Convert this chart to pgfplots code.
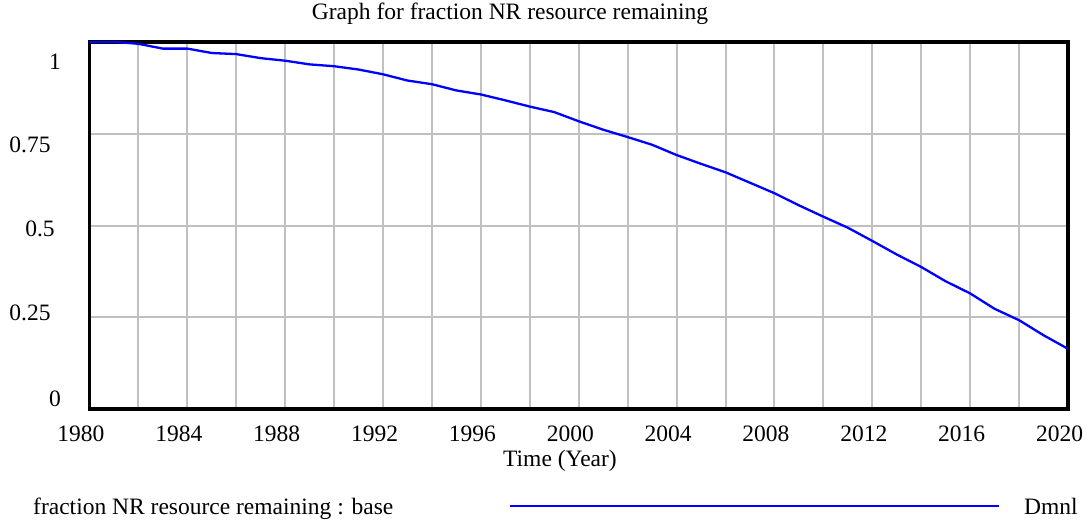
\documentclass[border=0pt]{standalone}
\usepackage{fontspec}
\setmainfont{Liberation Serif}
\usepackage{pgfplots}
\pgfplotsset{compat=1.18}
\definecolor{gridgray}{RGB}{192,192,192}
\begin{document}
\fontsize{23.5}{28}\selectfont
\begin{tikzpicture}
\begin{axis}[
 at={(89.5pt,114pt)}, anchor=south west,
 scale only axis, width=978.5pt, height=367pt,
 xmin=1980, xmax=2020, ymin=0, ymax=1,
 xtick={1980,1984,...,2020}, minor xtick={1982,1986,...,2018},
 ytick={0.25,0.5,0.75}, yticklabels={},
 grid=both,
 major grid style={gridgray, line width=2pt},
 minor grid style={gridgray, line width=2pt},
 major tick length=0pt, minor tick length=0pt,
 axis line style={black, line width=3.5pt},
 xticklabel style={anchor=center, inner sep=0pt, yshift=-24.5pt, xshift=-8.5pt,
   /pgf/number format/1000 sep={}},
 /pgf/number format/assume math mode=true,
 title={Graph for fraction NR resource remaining},
 title style={at={(axis description cs:0.4297,1.045)}, anchor=base, inner sep=0pt},
 xlabel={Time (Year)},
 xlabel style={at={(axis description cs:0.4808,-0.158)}, anchor=base, inner sep=0pt},
]
\addplot[blue, line width=2.3pt] coordinates {
(1980,1.0) (1981.1,1.0) (1982,0.995) (1983,0.982) (1984,0.982) (1985,0.970)
(1986,0.967) (1987,0.956) (1988,0.949) (1989,0.939) (1990,0.934) (1991,0.925)
(1992,0.912) (1993,0.895) (1994,0.885) (1995,0.868) (1996,0.857) (1997,0.841)
(1998,0.824) (1999,0.809) (2000,0.784) (2001,0.761) (2002,0.741) (2003,0.720)
(2004,0.692) (2005,0.668) (2006,0.645) (2008,0.588) (2009,0.555) (2010,0.524)
(2011,0.494) (2012,0.458) (2013,0.421) (2014,0.387) (2015,0.348) (2016,0.315)
(2017,0.273) (2018,0.242) (2019,0.201) (2020,0.164)
};
\end{axis}
\node[inner sep=0pt] at (55pt,461.5pt) {1};
\node[inner sep=0pt] at (30pt,378pt) {0.75};
\node[inner sep=0pt] at (40pt,294pt) {0.5};
\node[inner sep=0pt] at (30pt,210.5pt) {0.25};
\node[inner sep=0pt] at (55pt,124pt) {0};
\node[anchor=base west, inner sep=0pt] at (33pt,8.3pt) {fraction NR resource remaining : base};
\draw[blue, line width=2.3pt] (510pt,17pt) -- (999pt,17pt);
\node[anchor=base west, inner sep=0pt] at (1024pt,8.3pt) {Dmnl};
\path (0pt,0pt) rectangle (1088pt,523pt);
\end{tikzpicture}
\end{document}
